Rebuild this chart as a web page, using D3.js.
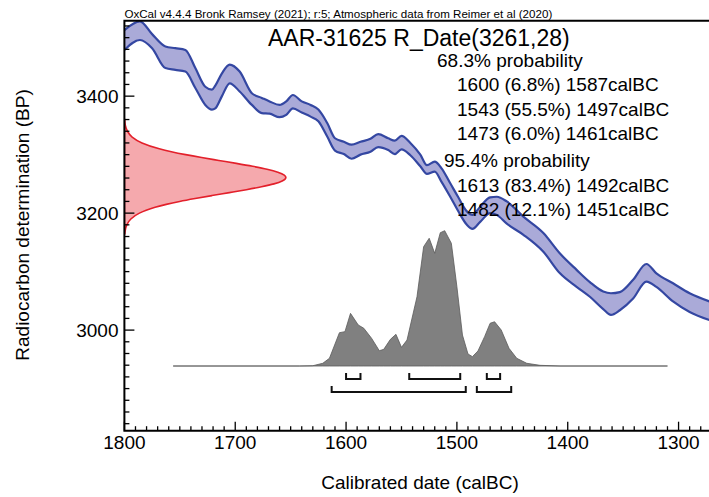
<!DOCTYPE html>
<html>
<head>
<meta charset="utf-8">
<script src="https://cdn.jsdelivr.net/npm/d3@7"></script>
<style>
  body { margin: 0; background: #fff; }
  svg { display: block; font-family: 'Liberation Sans', Arial, sans-serif; }
</style>
</head>
<body>
<div id="calib-chart"></div>
<script>
// Calibration curve (IntCal20 band): cal BC year, upper and lower BP
const curveYears = [1800, 1786, 1775, 1763, 1754, 1745, 1736, 1727, 1721, 1718, 1712, 1705, 1696, 1685, 1676, 1669, 1660, 1654, 1648, 1640, 1632, 1625, 1617, 1610, 1602, 1595, 1587, 1578, 1571, 1562, 1556, 1550, 1542, 1533, 1527, 1520, 1514, 1506, 1499, 1491, 1486, 1479, 1470, 1464, 1455, 1440, 1422, 1407, 1392, 1380, 1368, 1361, 1353, 1341, 1329, 1320, 1305, 1290, 1272];
const curveHigh = [3513, 3528, 3506, 3485, 3482, 3479, 3448, 3416, 3411, 3418, 3439, 3454, 3442, 3405, 3397, 3391, 3385, 3391, 3402, 3391, 3385, 3377, 3354, 3328, 3322, 3317, 3322, 3327, 3335, 3328, 3324, 3332, 3320, 3300, 3282, 3288, 3277, 3251, 3228, 3203, 3197, 3211, 3227, 3228, 3220, 3194, 3166, 3131, 3103, 3082, 3066, 3063, 3065, 3086, 3113, 3097, 3080, 3063, 3049];
const curveLow = [3479, 3496, 3482, 3448, 3445, 3442, 3414, 3385, 3377, 3379, 3400, 3422, 3408, 3385, 3371, 3370, 3364, 3368, 3379, 3372, 3365, 3357, 3331, 3307, 3301, 3293, 3300, 3305, 3313, 3308, 3301, 3309, 3299, 3280, 3267, 3271, 3254, 3228, 3204, 3180, 3173, 3185, 3200, 3197, 3182, 3163, 3134, 3097, 3074, 3057, 3036, 3026, 3034, 3054, 3083, 3074, 3049, 3031, 3017];

// Measurement R_Date(3261,28): BP values and relative density
const dateBP = [3360, 3350, 3340, 3330, 3320, 3310, 3305, 3300, 3295, 3290, 3285, 3280, 3275, 3270, 3265, 3261, 3255, 3250, 3245, 3240, 3235, 3230, 3225, 3220, 3215, 3210, 3205, 3200, 3190, 3180, 3170, 3165];
const dateDensity = [0.002, 0.006, 0.019, 0.048, 0.109, 0.216, 0.291, 0.379, 0.478, 0.585, 0.693, 0.794, 0.883, 0.950, 0.990, 1, 0.977, 0.926, 0.849, 0.755, 0.650, 0.542, 0.438, 0.342, 0.259, 0.190, 0.135, 0.093, 0.040, 0.015, 0.005, 0.003];

// Calibrated distribution: cal BC year and relative probability
const calYears = [1756, 1642, 1630, 1621, 1615, 1606, 1601, 1596, 1589, 1584, 1577, 1570, 1566, 1560, 1555, 1550, 1545, 1536, 1530, 1525, 1520, 1515, 1511, 1505, 1500, 1495, 1490, 1486, 1481, 1475, 1470, 1466, 1460, 1453, 1446, 1437, 1425, 1407, 1310];
const calProb = [0, 0, 0.2, 2, 5.7, 24.6, 25.4, 38.9, 30.3, 27.9, 20.5, 11.3, 12.3, 19.7, 23.4, 13.8, 19.2, 51.2, 88.2, 94.4, 83.3, 98.5, 100, 90.7, 58.6, 22.9, 8.9, 6.9, 11.1, 21.7, 31.6, 32.7, 26.6, 13.1, 5.7, 2, 0.5, 0, 0];

// Highest posterior density ranges
const ranges68 = [[1600, 1587], [1543, 1497], [1473, 1461]];
const ranges95 = [[1613, 1492], [1482, 1451]];

const headerText = 'OxCal v4.4.4 Bronk Ramsey (2021); r:5; Atmospheric data from Reimer et al (2020)';
const titleText = 'AAR-31625 R_Date(3261,28)';
const summaryLines = [
  { text: '68.3% probability', indent: 0 },
  { text: '1600 (6.8%) 1587calBC', indent: 20 },
  { text: '1543 (55.5%) 1497calBC', indent: 20 },
  { text: '1473 (6.0%) 1461calBC', indent: 20 },
  { text: '95.4% probability', indent: 7 },
  { text: '1613 (83.4%) 1492calBC', indent: 20 },
  { text: '1482 (12.1%) 1451calBC', indent: 20 },
];

const xMajorTicks = [1800, 1700, 1600, 1500, 1400, 1300];
const yMajorTicks = [3000, 3200, 3400];

const CalibChart = {
  init() {
    const width = 709;
    const height = 497;
    const plot = { left: 124.4, top: 20.7, right: 712, bottom: 430.7 };

    const svg = d3
      .select('#calib-chart')
      .append('svg')
      .attr('width', width)
      .attr('height', height);

    const x = d3.scaleLinear().domain([1800, 1272]).range([plot.left, 709.6]);
    const y = d3.scaleLinear().domain([2828, 3529]).range([plot.bottom, plot.top]);

    svg
      .append('clipPath')
      .attr('id', 'plot-clip')
      .append('rect')
      .attr('x', plot.left)
      .attr('y', plot.top)
      .attr('width', plot.right - plot.left)
      .attr('height', plot.bottom - plot.top);

    const inner = svg.append('g').attr('clip-path', 'url(#plot-clip)');

    this.drawCurve(inner, x, y);
    this.drawMeasurement(inner, x, y, plot);
    this.drawDistribution(svg, x);
    this.drawAxes(svg, x, y, plot);
    this.drawText(svg, plot);
  },

  drawCurve(g, x, y) {
    const pts = curveYears.map((yr, i) => ({ yr, hi: curveHigh[i], lo: curveLow[i] }));

    g.append('path')
      .datum(pts)
      .attr('fill', '#aaaad8')
      .attr(
        'd',
        d3
          .area()
          .curve(d3.curveMonotoneX)
          .x((d) => x(d.yr))
          .y0((d) => y(d.lo))
          .y1((d) => y(d.hi))
      );

    ['hi', 'lo'].forEach((key) => {
      g.append('path')
        .datum(pts)
        .attr('fill', 'none')
        .attr('stroke', '#3447a2')
        .attr('stroke-width', 2.2)
        .attr('stroke-linejoin', 'round')
        .attr(
          'd',
          d3
            .line()
            .curve(d3.curveMonotoneX)
            .x((d) => x(d.yr))
            .y((d) => y(d[key]))
        );
    });
  },

  drawMeasurement(g, x, y, plot) {
    const pts = dateBP.map((bp, i) => ({ bp, p: dateDensity[i] }));
    const w = d3.scaleLinear().domain([0, 1]).range([plot.left, plot.left + 161.5]);

    g.append('path')
      .datum(pts)
      .attr('fill', '#f5a9ad')
      .attr('stroke', '#e3202b')
      .attr('stroke-width', 1.6)
      .attr(
        'd',
        d3
          .area()
          .curve(d3.curveMonotoneY)
          .y((d) => y(d.bp))
          .x0(plot.left)
          .x1((d) => w(d.p))
      );
  },

  drawDistribution(svg, x) {
    const baseY = 366;
    const h = d3.scaleLinear().domain([0, 100]).range([0, 135.3]);
    const pts = calYears.map((yr, i) => ({ yr, p: calProb[i] }));

    svg
      .append('path')
      .datum(pts)
      .attr('fill', '#808080')
      .attr('stroke', '#5a5a5a')
      .attr('stroke-width', 0.8)
      .attr(
        'd',
        d3
          .area()
          .x((d) => x(d.yr))
          .y0(baseY)
          .y1((d) => baseY - h(d.p))
      );

    // range brackets under the distribution
    const drawBrackets = (ranges, lineY) => {
      ranges.forEach(([a, b]) => {
        const x0 = x(a);
        const x1 = x(b);
        svg
          .append('path')
          .attr('fill', 'none')
          .attr('stroke', '#111')
          .attr('stroke-width', 2)
          .attr('d', `M${x0},${lineY - 6}V${lineY}H${x1}V${lineY - 6}`);
      });
    };
    drawBrackets(ranges68, 379);
    drawBrackets(ranges95, 392);
  },

  drawAxes(svg, x, y, plot) {
    const axis = svg.append('g').attr('stroke', '#000');

    // frame
    axis
      .append('path')
      .attr('fill', 'none')
      .attr('stroke-width', 2)
      .attr('d', `M${plot.right},${plot.bottom}H${plot.left}V${plot.top}H${plot.right}`);

    // x ticks (inward)
    const xMinor = d3.range(1800, 1271, -10);
    axis
      .selectAll('.x-tick')
      .data(xMinor)
      .join('line')
      .attr('class', 'x-tick')
      .attr('x1', (d) => x(d))
      .attr('x2', (d) => x(d))
      .attr('y1', plot.bottom)
      .attr('y2', (d) => plot.bottom - (xMajorTicks.includes(d) ? 9 : 4.5))
      .attr('stroke-width', 1.3);

    // y ticks (inward)
    const yMinor = d3.range(2840, 3530, 20);
    axis
      .selectAll('.y-tick')
      .data(yMinor)
      .join('line')
      .attr('class', 'y-tick')
      .attr('y1', (d) => y(d))
      .attr('y2', (d) => y(d))
      .attr('x1', plot.left)
      .attr('x2', (d) => plot.left + (yMajorTicks.includes(d) ? 10 : 5))
      .attr('stroke-width', 1.3);

    svg
      .selectAll('.x-label')
      .data(xMajorTicks)
      .join('text')
      .attr('class', 'x-label')
      .attr('x', (d) => x(d))
      .attr('y', 448.5)
      .attr('text-anchor', 'middle')
      .attr('font-size', '19px')
      .text((d) => d);

    svg
      .selectAll('.y-label')
      .data(yMajorTicks)
      .join('text')
      .attr('class', 'y-label')
      .attr('x', 118.5)
      .attr('y', (d) => y(d))
      .attr('dy', '0.35em')
      .attr('text-anchor', 'end')
      .attr('font-size', '19px')
      .text((d) => d);

    svg
      .append('text')
      .attr('x', 420)
      .attr('y', 489)
      .attr('text-anchor', 'middle')
      .attr('font-size', '19px')
      .text('Calibrated date (calBC)');

    svg
      .append('text')
      .attr('transform', 'rotate(-90)')
      .attr('x', -225)
      .attr('y', 29)
      .attr('text-anchor', 'middle')
      .attr('font-size', '19px')
      .text('Radiocarbon determination (BP)');
  },

  drawText(svg, plot) {
    svg
      .append('text')
      .attr('x', plot.left)
      .attr('y', 17.5)
      .attr('font-size', '11.6px')
      .text(headerText);

    svg
      .append('text')
      .attr('x', 268)
      .attr('y', 46)
      .attr('font-size', '23px')
      .text(titleText);

    svg
      .selectAll('.summary')
      .data(summaryLines)
      .join('text')
      .attr('class', 'summary')
      .attr('x', (d) => 437 + d.indent)
      .attr('y', (d, i) => 66.5 + i * 24.6 + (i >= 4 ? 2 : 0))
      .attr('font-size', '19px')
      .text((d) => d.text);
  },
};

document.addEventListener('DOMContentLoaded', () => {
  CalibChart.init();
});
</script>
</body>
</html>
